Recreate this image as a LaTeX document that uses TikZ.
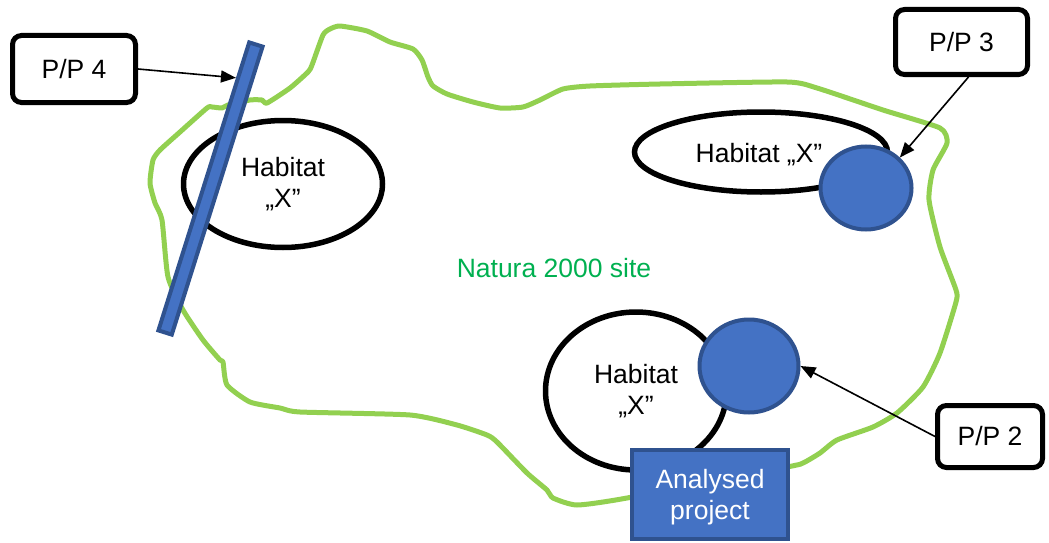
\documentclass[tikz,border=0pt]{standalone}
\usepackage{fontspec}
\setmainfont{Liberation Sans}
\usetikzlibrary{shapes.geometric,arrows.meta,calc}
\definecolor{sitegreen}{HTML}{92D050}
\definecolor{labelgreen}{HTML}{00B050}
\definecolor{blueFill}{HTML}{4472C4}
\definecolor{blueEdge}{HTML}{2F528F}
\tikzset{
  site/.style={draw=sitegreen, line width=5pt, line join=round},
  habitat/.style={ellipse, draw=black, line width=5.5pt, fill=white, inner sep=0pt, align=center},
  spot/.style={ellipse, draw=blueEdge, line width=4pt, fill=blueFill, inner sep=0pt},
  ppbox/.style={rectangle, rounded corners=9pt, draw=black, line width=5pt, fill=white, inner sep=0pt},
  project/.style={rectangle, draw=blueEdge, line width=4pt, fill=blueFill, inner sep=0pt},
  barstyle/.style={rectangle, draw=blueEdge, line width=4pt, fill=blueFill, inner sep=0pt},
  link/.style={draw=black, line width=1.6pt, -{Triangle[length=15pt,width=12pt]}},
}
\begin{document}
\begin{tikzpicture}[x=1pt, y=-1pt, font=\fontsize{26.5}{31}\selectfont]
\useasboundingbox (0,0) rectangle (1049,543);

% boundary of the Natura 2000 site
\draw[site] plot[smooth cycle, tension=0.35] coordinates {
  (228,105) (250,100) (262,100) (267,103) (290,88) (308,72) (312,65) (323,35)
  (330,29) (340,26) (367,31) (390,42) (413,49) (422,60) (428,77) (433,86)
  (447,94) (473,102) (500,108) (523,107) (540,100) (563,89) (590,86) (660,84)
  (787,82) (817,88) (883,110) (940,128) (947,143) (933,170) (929,200) (940,247)
  (956,290) (956,302) (940,353) (923,387) (897,413) (873,427) (837,440) (820,453)
  (803,463) (787,467) (627,498) (577,505) (553,498) (547,490) (527,473) (497,442)
  (487,435) (457,425) (410,415) (300,412) (280,408) (250,402) (227,385) (223,362)
  (220,360) (203,340) (183,310) (168,277) (162,220) (155,203) (150,183) (153,160)
  (160,150) (180,132) (207,108) (212,107) (222,108)};

\node[text=labelgreen] (site) at (554,268) {Natura 2000 site};

% habitats
\node[habitat, minimum width=199pt, minimum height=127pt] (h1) at (283,184) {Habitat\\„X”};
\node[habitat, minimum width=253pt, minimum height=80pt] (h3) at (761,152) {};
\node (h3t) at (759,155) {Habitat „X”};
\node[habitat, minimum width=181pt, minimum height=158pt] (h2) at (636,391) {Habitat\\„X”};

% plans and projects acting on the habitats
\node[spot, minimum width=91pt, minimum height=83pt] (c3) at (866,188) {};
\node[spot, minimum width=99pt, minimum height=93pt] (c2) at (749,366) {};
\node[barstyle, rotate=72.5, minimum width=302pt, minimum height=14pt] (bar) at (210.5,188.5) {};
\node[project, minimum width=156pt, minimum height=89pt] (proj) at (710,494) {};
\node[text=white, align=center] (projtext) at (710,497) {Analysed\\project};

% labels of the other plans/projects
\node[ppbox, minimum width=123pt, minimum height=67pt] (pp4) at (74,69) {P/P 4};
\node[ppbox, minimum width=132pt, minimum height=65pt] (pp3) at (961.5,42) {P/P 3};
\node[ppbox, minimum width=105pt, minimum height=62pt] (pp2) at (990,436.5) {P/P 2};

% connectors
\coordinate (bartip) at ($(bar.north east)!0.13!(bar.north west)$);
\draw[link] (pp4.east) -- (bartip);
\draw[link] ([xshift=7pt]pp3.south) -- (c3.42);
\draw[link] (pp2.west) -- (c2.east);
\end{tikzpicture}
\end{document}
